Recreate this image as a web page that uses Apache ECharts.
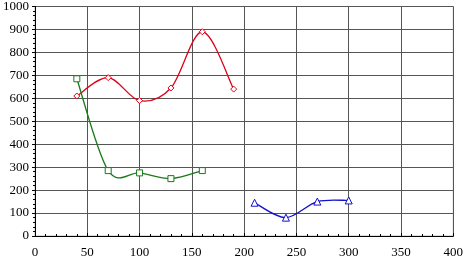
<!DOCTYPE html>
<html>
<head>
<meta charset="utf-8">
<script src="https://cdn.jsdelivr.net/npm/echarts@6/dist/echarts.min.js"></script>
<style>
  html, body { margin: 0; padding: 0; background: #fff; }
  #chart { width: 466px; height: 259px; }
</style>
</head>
<body>
<div id="chart"></div>
<script>
const redX = [40, 70, 100, 130, 160, 190]
const redY = [610, 690, 590, 645, 890, 640]
const greenX = [40, 70, 100, 130, 160]
const greenY = [685, 285, 275, 250, 285]
const blueX = [210, 240, 270, 300]
const blueY = [145, 80, 150, 155]

const pairs = (xs, ys) => xs.map((x, i) => [x, ys[i]])
const font = '"Liberation Serif", "Times New Roman", serif'

const chart = echarts.init(document.getElementById('chart'))

// catmull-rom style curve through the points, like the spreadsheet smoothing
const curve = (xs, ys, color) => ({
  type: 'custom',
  data: pairs(xs, ys),
  z: 2,
  silent: true,
  renderItem: (params, api) => {
    if (params.dataIndex !== 0) return null
    const p = pairs(xs, ys).map((d) => api.coord(d))
    const n = p.length
    let d = `M${p[0][0]},${p[0][1]}`
    for (let i = 0; i < n - 1; i++) {
      const p0 = p[Math.max(i - 1, 0)]
      const p1 = p[i]
      const p2 = p[i + 1]
      const p3 = p[Math.min(i + 2, n - 1)]
      const c1 = [p1[0] + (p2[0] - p0[0]) / 6, p1[1] + (p2[1] - p0[1]) / 6]
      const c2 = [p2[0] - (p3[0] - p1[0]) / 6, p2[1] - (p3[1] - p1[1]) / 6]
      d += ` C${c1[0]},${c1[1]} ${c2[0]},${c2[1]} ${p2[0]},${p2[1]}`
    }
    return {
      type: 'path',
      shape: { pathData: d },
      style: { fill: 'none', stroke: color, lineWidth: 1.3 },
    }
  },
})

const marks = (xs, ys, color, symbol) => ({
  type: 'line',
  data: pairs(xs, ys),
  z: 3,
  symbol,
  symbolSize: symbol === 'triangle' ? 7 : 6,
  lineStyle: { width: 0, opacity: 0 },
  itemStyle: { color: '#fff', borderColor: color, borderWidth: 1 },
})

chart.setOption({
  animation: false,
  backgroundColor: '#fff',
  grid: { left: 35, right: 10, top: 4, bottom: 23, containLabel: false,
    show: true, borderColor: '#bbb', borderWidth: 1 },
  xAxis: {
    type: 'value', min: 0, max: 400, interval: 50,
    axisLine: { lineStyle: { color: '#000' } },
    axisTick: { show: true, inside: true, length: 3, lineStyle: { color: '#000' } },
    minorTick: { show: true, splitNumber: 5, length: 2, lineStyle: { color: '#000' } },
    axisLabel: { color: '#000', fontFamily: font, fontSize: 13, margin: 10,
      formatter: (v) => String(v) },
    splitLine: { lineStyle: { color: '#555', width: 1 } },
  },
  yAxis: {
    type: 'value', min: 0, max: 1000, interval: 100,
    axisLine: { show: true, lineStyle: { color: '#000' } },
    axisTick: { show: true, length: 3, lineStyle: { color: '#000' } },
    minorTick: { show: true, splitNumber: 5, length: 2, lineStyle: { color: '#000' } },
    axisLabel: { color: '#000', fontFamily: font, fontSize: 13, margin: 6,
      formatter: (v) => String(v) },
    splitLine: { lineStyle: { color: '#555', width: 1 } },
  },
  series: [
    curve(redX, redY, '#e0001a'),
    curve(greenX, greenY, '#1a7a1a'),
    curve(blueX, blueY, '#1010d0'),
    marks(redX, redY, '#e0001a', 'diamond'),
    marks(greenX, greenY, '#1a7a1a', 'rect'),
    marks(blueX, blueY, '#1010d0', 'triangle'),
  ],
})
</script>
</body>
</html>
